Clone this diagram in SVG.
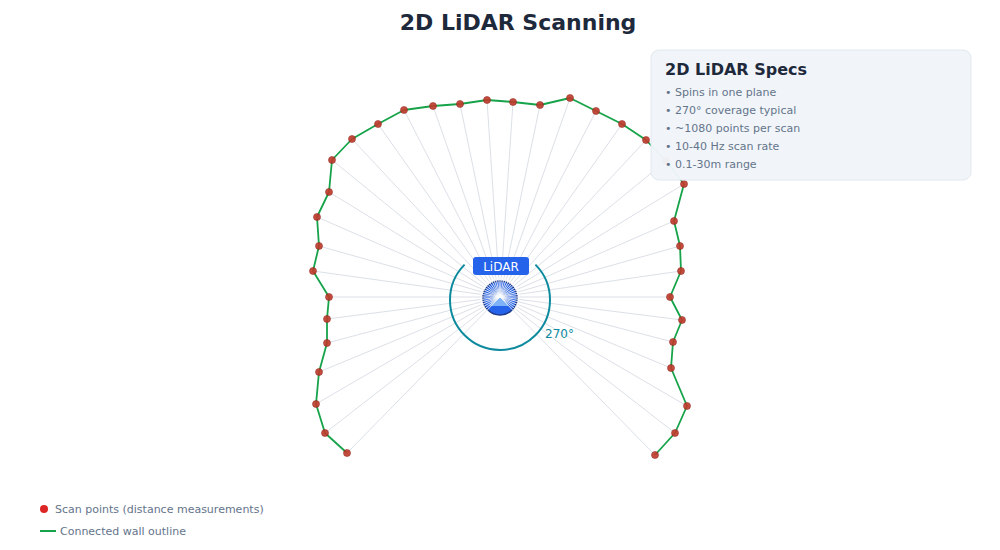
<svg xmlns="http://www.w3.org/2000/svg" width="1000" height="550" viewBox="0 0 1000 550">
<style>
text { font-family: "DejaVu Sans", "Noto Sans", sans-serif; }
.ray { stroke: #94a3b8; stroke-width: 0.6; opacity: 0.55; }
.pt { fill: #c0392b; stroke: #8b1e14; stroke-width: 0.6; opacity: 0.9; }
.wall { fill: none; stroke: #16a34a; stroke-width: 1.8; stroke-linejoin: round; }
.spec { font-size: 11px; fill: #64748b; }
.leg { font-size: 11px; fill: #64748b; }
.burst line { stroke: #ffffff; stroke-width: 0.9; opacity: 0.85; }
</style>
<rect width="1000" height="550" fill="#ffffff"/>
<text x="518" y="30" text-anchor="middle" font-size="22" font-weight="bold" fill="#1e293b">2D LiDAR Scanning</text>

<g id="sensor-body">
<circle cx="500" cy="298" r="17" fill="#2563eb" stroke="#1e3a8a" stroke-width="1.5"/>
<polygon points="498,291 509,306 489,306" fill="#93c5fd" opacity="0.8"/>
</g>

<g id="connectors">
<g id="rays">
<line class="ray" x1="500" y1="297" x2="347" y2="453"/>
<line class="ray" x1="500" y1="297" x2="325" y2="433"/>
<line class="ray" x1="500" y1="297" x2="316" y2="404"/>
<line class="ray" x1="500" y1="297" x2="319" y2="372"/>
<line class="ray" x1="500" y1="297" x2="327" y2="343"/>
<line class="ray" x1="500" y1="297" x2="327" y2="319"/>
<line class="ray" x1="500" y1="297" x2="329" y2="297"/>
<line class="ray" x1="500" y1="297" x2="313" y2="271"/>
<line class="ray" x1="500" y1="297" x2="319" y2="246"/>
<line class="ray" x1="500" y1="297" x2="317" y2="217"/>
<line class="ray" x1="500" y1="297" x2="329" y2="192"/>
<line class="ray" x1="500" y1="297" x2="332" y2="160"/>
<line class="ray" x1="500" y1="297" x2="352" y2="139"/>
<line class="ray" x1="500" y1="297" x2="378" y2="124"/>
<line class="ray" x1="500" y1="297" x2="404" y2="110"/>
<line class="ray" x1="500" y1="297" x2="433" y2="106"/>
<line class="ray" x1="500" y1="297" x2="460" y2="104"/>
<line class="ray" x1="500" y1="297" x2="487" y2="100"/>
<line class="ray" x1="500" y1="297" x2="513" y2="102"/>
<line class="ray" x1="500" y1="297" x2="540" y2="105"/>
<line class="ray" x1="500" y1="297" x2="570" y2="98"/>
<line class="ray" x1="500" y1="297" x2="596" y2="111"/>
<line class="ray" x1="500" y1="297" x2="622" y2="124"/>
<line class="ray" x1="500" y1="297" x2="646" y2="140"/>
<line class="ray" x1="500" y1="297" x2="666" y2="161"/>
<line class="ray" x1="500" y1="297" x2="684" y2="184"/>
<line class="ray" x1="500" y1="297" x2="674" y2="221"/>
<line class="ray" x1="500" y1="297" x2="680" y2="246"/>
<line class="ray" x1="500" y1="297" x2="681" y2="271"/>
<line class="ray" x1="500" y1="297" x2="670" y2="297"/>
<line class="ray" x1="500" y1="297" x2="682" y2="320"/>
<line class="ray" x1="500" y1="297" x2="673" y2="342"/>
<line class="ray" x1="500" y1="297" x2="671" y2="368"/>
<line class="ray" x1="500" y1="297" x2="687" y2="406"/>
<line class="ray" x1="500" y1="297" x2="675" y2="433"/>
<line class="ray" x1="500" y1="297" x2="655" y2="455"/>
</g>
<polyline id="wall-outline" class="wall" points="347,453 325,433 316,404 319,372 327,343 327,319 329,297 313,271 319,246 317,217 329,192 332,160 352,139 378,124 404,110 433,106 460,104 487,100 513,102 540,105 570,98 596,111 622,124 646,140 666,161 684,184 674,221 680,246 681,271 670,297 682,320 673,342 671,368 687,406 675,433 655,455"/>
</g>

<g id="sensor-burst" class="burst">
<line x1="500" y1="297" x2="486.3" y2="311.0"/>
<line x1="500" y1="297" x2="483.6" y2="309.8"/>
<line x1="500" y1="297" x2="481.7" y2="307.7"/>
<line x1="500" y1="297" x2="480.4" y2="305.0"/>
<line x1="500" y1="297" x2="480.0" y2="302.3"/>
<line x1="500" y1="297" x2="480.1" y2="299.6"/>
<line x1="500" y1="297" x2="480.0" y2="297.0"/>
<line x1="500" y1="297" x2="480.2" y2="294.2"/>
<line x1="500" y1="297" x2="480.6" y2="291.7"/>
<line x1="500" y1="297" x2="481.7" y2="289.0"/>
<line x1="500" y1="297" x2="482.8" y2="286.5"/>
<line x1="500" y1="297" x2="484.5" y2="284.4"/>
<line x1="500" y1="297" x2="486.2" y2="282.3"/>
<line x1="500" y1="297" x2="488.4" y2="280.6"/>
<line x1="500" y1="297" x2="490.9" y2="279.2"/>
<line x1="500" y1="297" x2="493.4" y2="278.1"/>
<line x1="500" y1="297" x2="495.9" y2="277.4"/>
<line x1="500" y1="297" x2="498.7" y2="277.0"/>
<line x1="500" y1="297" x2="501.3" y2="277.0"/>
<line x1="500" y1="297" x2="504.1" y2="277.4"/>
<line x1="500" y1="297" x2="506.7" y2="278.2"/>
<line x1="500" y1="297" x2="509.2" y2="279.3"/>
<line x1="500" y1="297" x2="511.4" y2="280.6"/>
<line x1="500" y1="297" x2="513.4" y2="282.3"/>
<line x1="500" y1="297" x2="515.1" y2="283.9"/>
<line x1="500" y1="297" x2="517.0" y2="286.5"/>
<line x1="500" y1="297" x2="518.3" y2="289.0"/>
<line x1="500" y1="297" x2="519.4" y2="291.7"/>
<line x1="500" y1="297" x2="519.9" y2="294.2"/>
<line x1="500" y1="297" x2="520.0" y2="297.0"/>
<line x1="500" y1="297" x2="519.9" y2="299.5"/>
<line x1="500" y1="297" x2="519.5" y2="302.1"/>
<line x1="500" y1="297" x2="519.5" y2="305.2"/>
<line x1="500" y1="297" x2="518.4" y2="307.9"/>
<line x1="500" y1="297" x2="516.0" y2="309.5"/>
<line x1="500" y1="297" x2="514.0" y2="311.3"/>
</g>

<g id="scan-points">
<circle class="pt" cx="347" cy="453" r="3.5"/>
<circle class="pt" cx="325" cy="433" r="3.5"/>
<circle class="pt" cx="316" cy="404" r="3.5"/>
<circle class="pt" cx="319" cy="372" r="3.5"/>
<circle class="pt" cx="327" cy="343" r="3.5"/>
<circle class="pt" cx="327" cy="319" r="3.5"/>
<circle class="pt" cx="329" cy="297" r="3.5"/>
<circle class="pt" cx="313" cy="271" r="3.5"/>
<circle class="pt" cx="319" cy="246" r="3.5"/>
<circle class="pt" cx="317" cy="217" r="3.5"/>
<circle class="pt" cx="329" cy="192" r="3.5"/>
<circle class="pt" cx="332" cy="160" r="3.5"/>
<circle class="pt" cx="352" cy="139" r="3.5"/>
<circle class="pt" cx="378" cy="124" r="3.5"/>
<circle class="pt" cx="404" cy="110" r="3.5"/>
<circle class="pt" cx="433" cy="106" r="3.5"/>
<circle class="pt" cx="460" cy="104" r="3.5"/>
<circle class="pt" cx="487" cy="100" r="3.5"/>
<circle class="pt" cx="513" cy="102" r="3.5"/>
<circle class="pt" cx="540" cy="105" r="3.5"/>
<circle class="pt" cx="570" cy="98" r="3.5"/>
<circle class="pt" cx="596" cy="111" r="3.5"/>
<circle class="pt" cx="622" cy="124" r="3.5"/>
<circle class="pt" cx="646" cy="140" r="3.5"/>
<circle class="pt" cx="666" cy="161" r="3.5"/>
<circle class="pt" cx="684" cy="184" r="3.5"/>
<circle class="pt" cx="674" cy="221" r="3.5"/>
<circle class="pt" cx="680" cy="246" r="3.5"/>
<circle class="pt" cx="681" cy="271" r="3.5"/>
<circle class="pt" cx="670" cy="297" r="3.5"/>
<circle class="pt" cx="682" cy="320" r="3.5"/>
<circle class="pt" cx="673" cy="342" r="3.5"/>
<circle class="pt" cx="671" cy="368" r="3.5"/>
<circle class="pt" cx="687" cy="406" r="3.5"/>
<circle class="pt" cx="675" cy="433" r="3.5"/>
<circle class="pt" cx="655" cy="455" r="3.5"/>
</g>

<g id="coverage-arc">
<path d="M 464.6 264.6 A 50 50 0 1 0 535.4 264.6" fill="none" stroke="#0e8a9e" stroke-width="2"/>
<text x="545" y="338" font-size="12" fill="#0e8a9e">270°</text>
</g>

<g id="lidar-label">
<rect x="473" y="257" width="56" height="18" rx="3" fill="#2563eb"/>
<text x="501" y="271" text-anchor="middle" font-size="12" fill="#ffffff">LiDAR</text>
</g>

<g id="specs-box">
<rect x="651" y="50" width="320" height="130" rx="8" fill="#f1f5f9" fill-opacity="0.97" stroke="#e2e8f0" stroke-width="1"/>
<text x="665" y="75" font-size="16" font-weight="bold" fill="#1e293b">2D LiDAR Specs</text>
<text class="spec" x="665" y="96">• Spins in one plane</text>
<text class="spec" x="665" y="114">• 270° coverage typical</text>
<text class="spec" x="665" y="132">• ~1080 points per scan</text>
<text class="spec" x="665" y="150">• 10-40 Hz scan rate</text>
<text class="spec" x="665" y="168">• 0.1-30m range</text>
</g>

<g id="legend">
<circle cx="44" cy="509" r="4" fill="#dc2626"/>
<text class="leg" x="55" y="513">Scan points (distance measurements)</text>
<line x1="40" y1="531" x2="56" y2="531" stroke="#16a34a" stroke-width="2"/>
<text class="leg" x="60" y="535">Connected wall outline</text>
</g>
</svg>
